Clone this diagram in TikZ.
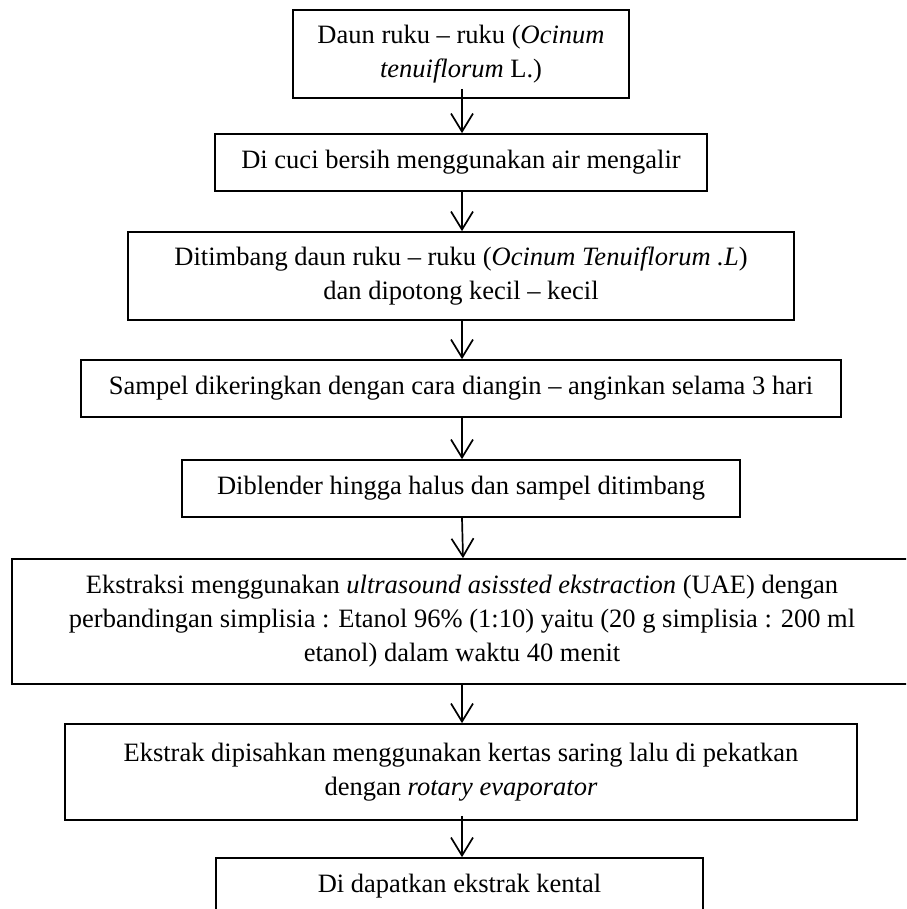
\documentclass[tikz,border=0pt]{standalone}
\usepackage{fontspec}
\setmainfont{Liberation Serif}
\usetikzlibrary{arrows.meta}
\begin{document}
\begin{tikzpicture}[x=1pt,y=-1pt,
  stepbox/.style={draw=black, line width=1.7pt, inner sep=0pt, align=center,
    font=\fontsize{26.5}{34}\selectfont},
  flow/.style={draw=black, line width=1.7pt, -{Straight Barb[length=18pt,width=22pt]}}]
\useasboundingbox (0,0) rectangle (906,909);
\clip (0,0) rectangle (906,909);
\node[stepbox, minimum width=336pt, minimum height=88pt] (b1) at (461,54)
  {Daun ruku -- ruku (\textit{Ocinum}\\\textit{tenuiflorum} L.)};
\node[stepbox, minimum width=492pt, minimum height=57pt] (b2) at (461,162.5)
  {Di cuci bersih menggunakan air mengalir};
\node[stepbox, minimum width=666pt, minimum height=88pt] (b3) at (461,276)
  {Ditimbang daun ruku -- ruku (\textit{Ocinum Tenuiflorum .L})\\dan dipotong kecil -- kecil};
\node[stepbox, minimum width=760pt, minimum height=57pt] (b4) at (461,388.5)
  {Sampel dikeringkan dengan cara diangin -- anginkan selama 3 hari};
\node[stepbox, minimum width=558pt, minimum height=57pt] (b5) at (461,488.5)
  {Diblender hingga halus dan sampel ditimbang};
\node[stepbox, minimum width=900pt, minimum height=125pt] (b6) at (462,621.5)
  {Ekstraksi menggunakan \textit{ultrasound asissted ekstraction} (UAE) dengan\\perbandingan simplisia : Etanol 96\% (1:10) yaitu (20 g simplisia : 200 ml\\etanol) dalam waktu 40 menit};
\node[stepbox, minimum width=792pt, minimum height=96pt] (b7) at (461,772)
  {Ekstrak dipisahkan menggunakan kertas saring lalu di pekatkan\\dengan \textit{rotary evaporator}};
\node[stepbox, minimum width=487pt, minimum height=57pt] (b8) at (459.5,886.5)
  {Di dapatkan ekstrak kental};
\draw[flow] ([xshift=1pt,yshift=10pt]b1.south) -- ([xshift=1pt]b2.north);
\draw[flow] ([xshift=1pt]b2.south) -- ([xshift=1pt]b3.north);
\draw[flow] ([xshift=1pt]b3.south) -- ([xshift=1pt]b4.north);
\draw[flow] ([xshift=1pt]b4.south) -- ([xshift=1pt]b5.north);
\draw[flow] ([xshift=1pt]b5.south) -- ([xshift=1pt]b6.north);
\draw[flow] ([xshift=0pt]b6.south) -- ([xshift=1pt]b7.north);
\draw[flow] ([xshift=1pt,yshift=5pt]b7.south) -- ([xshift=2.5pt]b8.north);
\end{tikzpicture}
\end{document}
